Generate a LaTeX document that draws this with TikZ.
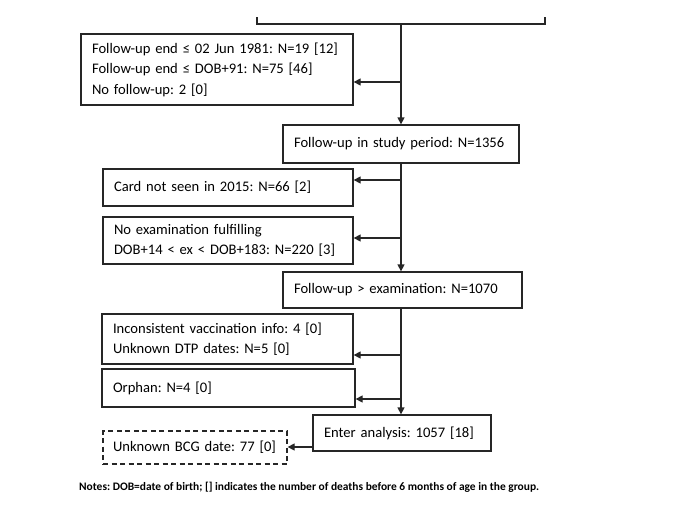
\documentclass[tikz,border=0pt]{standalone}
\usepackage{fontspec}
\setmainfont{Carlito}
\usetikzlibrary{arrows.meta}
\tikzset{
  box/.style={draw=black!85, line width=1.3pt, rectangle, inner xsep=11pt, inner ysep=0pt,
    align=left, anchor=center, font=\frenchspacing\fontsize{14.6}{20.5}\selectfont},
  dbox/.style={box, dash pattern=on 5pt off 3.5pt},
  arr/.style={draw=black!85, line width=1.3pt, -{Triangle[length=7pt,width=7pt]}},
  ln/.style={draw=black!85, line width=1.3pt},
}
\begin{document}
\begin{tikzpicture}[x=1pt,y=-1pt]
\useasboundingbox (0,0) rectangle (696,512);
% bracket
\coordinate (bl) at (257,17);
\coordinate (br) at (545,17);
\coordinate (top) at (401,24);
\draw[ln] (bl) -- (bl |- top) -- (br |- top) -- (br);
% boxes
\node[box, minimum width=272pt, minimum height=71pt, text width=250pt] (b1) at (217,69.5)
  {Follow-up end ≤ 02 Jun 1981: N=19 [12]\\Follow-up end ≤ DOB+91: N=75 [46]\\No follow-up: 2 [0]};
\node[box, minimum width=236pt, minimum height=38pt, text width=214pt] (b2) at (401,144)
  {Follow-up in study period: N=1356};
\node[box, minimum width=250pt, minimum height=37pt, text width=228pt] (b3) at (228,187.5)
  {Card not seen in 2015: N=66 [2]};
\node[box, minimum width=250pt, minimum height=47pt, text width=228pt] (b4) at (228,240.5)
  {No examination fulfilling\\DOB+14 {<} ex {<} DOB+183: N=220 [3]};
\node[box, minimum width=239pt, minimum height=36pt, text width=217pt] (b5) at (402.5,290)
  {Follow-up > examination: N=1070};
\node[box, minimum width=251pt, minimum height=50pt, text width=229pt] (b6) at (227.5,339)
  {Inconsistent vaccination info: 4 [0]\\Unknown DTP dates: N=5 [0]};
\node[box, minimum width=253pt, minimum height=38pt, text width=231pt] (b7) at (228.5,388)
  {Orphan: N=4 [0]};
\node[box, minimum width=178pt, minimum height=36pt, text width=156pt] (b8) at (402,433)
  {Enter analysis: 1057 [18]};
\node[dbox, minimum width=184pt, minimum height=33pt, inner xsep=10pt, text width=164pt] (b9) at (195,447.5)
  {\mbox{Unknown BCG date: 77 [0]}};
% trunk
\draw[arr] (top) -- (b2.north);
\coordinate (t1) at (401,82);
\draw[arr] (t1) -- (t1 -| b1.east);
\draw[arr] (b2.south -| top) -- (b5.north -| top);
\coordinate (t2) at (401,180);
\coordinate (t3) at (401,238);
\draw[arr] (t2) -- (t2 -| b3.east);
\draw[arr] (t3) -- (t3 -| b4.east);
\draw[arr] (b5.south -| top) -- (b8.north -| top);
\coordinate (t4) at (401,355);
\coordinate (t5) at (401,399);
\draw[arr] (t4) -- (t4 -| b6.east);
\draw[arr] (t5) -- (t5 -| b7.east);
\coordinate (t6) at (313,447);
\draw[arr] (t6) -- (t6 -| b9.east);
% notes
\node[anchor=west, inner sep=0pt, font=\frenchspacing\fontsize{11.45}{13}\selectfont\bfseries] (notes) at (79,487)
  {Notes: DOB=date of birth; [] indicates the number of deaths before 6 months of age in the group.};
\end{tikzpicture}
\end{document}
